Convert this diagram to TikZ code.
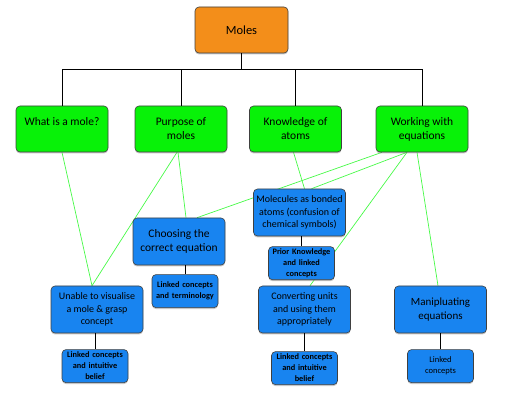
\documentclass[tikz,border=0pt]{standalone}
\usepackage{fontspec}
\setmainfont{Carlito}
\usepackage{xcolor}
\usetikzlibrary{positioning,backgrounds,shadows}

\definecolor{rootorange}{RGB}{243,142,26}
\definecolor{topicgreen}{RGB}{8,242,8}
\definecolor{issueblue}{RGB}{24,132,240}
\definecolor{linkgreen}{RGB}{70,250,70}

\begin{document}
\begin{tikzpicture}[x=1pt, y=-1pt,
    box/.style={rectangle, draw=black!75, semithick, rounded corners=4pt, align=center, inner sep=2pt,
        drop shadow={shadow xshift=0pt, shadow yshift=-1.5pt, opacity=0.45}},
    root/.style={box, fill=rootorange, minimum width=93pt, minimum height=46pt, font=\fontsize{12.5}{14}\selectfont},
    topic/.style={box, fill=topicgreen, minimum width=92pt, minimum height=46pt, font=\fontsize{11.5}{14}\selectfont},
    issue/.style={box, fill=issueblue, minimum width=92pt, minimum height=47pt, font=\fontsize{10}{12.5}\selectfont},
    detail/.style={box, fill=issueblue, minimum width=64pt, minimum height=33pt, text width=62pt, font=\bfseries\fontsize{8.3}{11}\selectfont},
    tree/.style={draw, black, line width=0.7pt},
    link/.style={draw, linkgreen, line width=0.7pt}
]
    \useasboundingbox (0,0) rectangle (512,406);

    % Root and topics
    \node[root] (moles) at (241.5,30) {Moles};

    \node[topic] (whatis) at (62,129) {What is a mole?\\\mbox{}};
    \node[topic] (purpose) at (181,129) {Purpose of\\moles};
    \node[topic] (knowledge) at (295.5,129) {Knowledge of\\atoms};
    \node[topic] (working) at (422,129) {Working with\\equations};

    % Issues
    \node[issue] (molecules) at (299.5,212.5) {Molecules as bonded\\atoms (confusion of\\chemical symbols)};
    \node[issue, font=\fontsize{11.5}{14}\selectfont] (choosing) at (179,241.5) {Choosing the\\correct equation};
    \node[issue] (unable) at (97,309.5) {Unable to visualise\\a mole \& grasp\\concept};
    \node[issue] (converting) at (304.5,309.5) {Converting units\\and using them\\appropriately};
    \node[issue, font=\fontsize{11}{13.5}\selectfont] (manip) at (440.5,309.5) {Manipluating\\equations};

    % Details
    \node[detail, below=10pt of molecules, xshift=2pt] (prior) {Prior Knowledge\\and linked\\concepts};
    \node[detail, below=9pt of choosing, xshift=6pt] (linkterm) {Linked concepts\\and terminology};
    \node[detail, below=16pt of unable, xshift=-2pt] (linkleft) {Linked concepts\\and intuitive\\belief};
    \node[detail, below=18pt of converting] (linkmid) {Linked concepts\\and intuitive\\belief};
    \node[detail, below=16pt of manip, font=\fontsize{8.5}{11}\selectfont] (linkright) {Linked\\concepts};

    % Tree from root
    \path[tree] (moles.south) -- ++(0,16) coordinate (bus);
    \foreach \t in {whatis,purpose,knowledge,working}
        \path[tree] (bus) -| (\t.north);

    \path[tree] (choosing.south -| linkterm.north) -- (linkterm.north);
    \path[tree] (molecules.south -| prior.north) -- (prior.north);
    \path[tree] (unable.south -| linkleft.north) -- (linkleft.north);
    \path[tree] (converting.south) -- (linkmid.north);
    \path[tree] (manip.south) -- (linkright.north);

    % Cross links
    \begin{scope}[on background layer]
        \path[link] (whatis.south) -- ([xshift=-5pt]unable.north);
        \path[link] ([xshift=-4pt]purpose.south) -- ([xshift=-5pt]unable.north);
        \path[link] ([xshift=-3pt]purpose.south) -- ([xshift=7pt]choosing.north);
        \path[link] ([xshift=-2pt]knowledge.south) -- ([xshift=5pt]molecules.north);
        \path[link] ([xshift=-40pt]working.south) -- ([xshift=18pt]choosing.north);
        \path[link] ([xshift=-15pt]working.south) -- ([xshift=12pt]molecules.north);
        \path[link] ([xshift=-15pt]working.south) -- ([xshift=5.5pt]converting.north);
        \path[link] ([xshift=-5pt]working.south) -- ([xshift=-2.5pt]manip.north);
    \end{scope}
\end{tikzpicture}
\end{document}
